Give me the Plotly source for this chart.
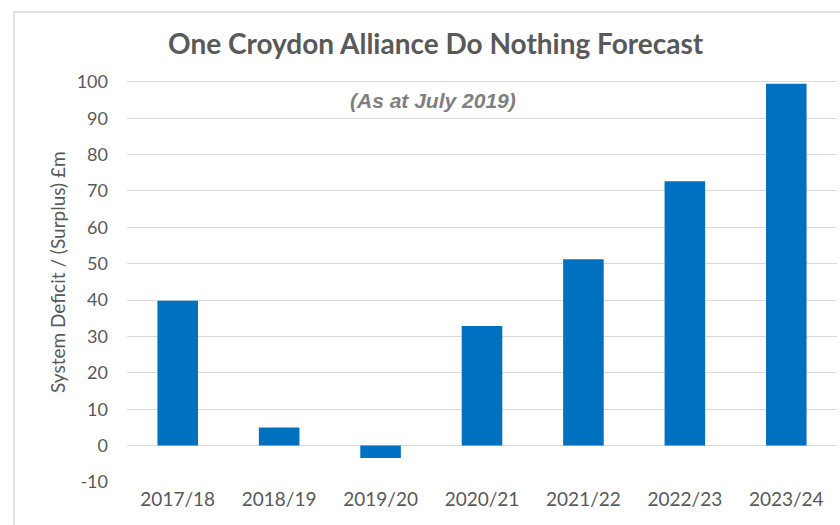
import plotly.graph_objects as go

categories = ["2017/18", "2018/19", "2019/20", "2020/21", "2021/22", "2022/23", "2023/24"]
values = [39.8, 5.0, -3.4, 32.9, 51.2, 72.7, 99.5]
y_ticks = [-10, 0, 10, 20, 30, 40, 50, 60, 70, 80, 90, 100]
y_tick_labels = [str(v) for v in y_ticks]

W, H = 840, 525
ml, mr, mt, mb = 127, 3, 80, 43
pw, ph = W - ml - mr, H - mt - mb

def px_x(p):
    return (p - ml) / pw

def px_y(p):
    return (H - mb - p) / ph

fig = go.Figure(go.Bar(x=categories, y=values, marker_color="#0070C0", marker_line_width=0))

fig.update_layout(
    width=W, height=H,
    margin=dict(l=ml, r=mr, t=mt, b=mb),
    paper_bgcolor="white", plot_bgcolor="white",
    bargap=0.6,
    showlegend=False,
    font=dict(family="Lato, Open Sans, sans-serif", color="#595959"),
    xaxis=dict(showgrid=False, showline=False, ticks="", tickfont=dict(size=19, color="#595959"),
               zeroline=False, ticklabelstandoff=4),
    yaxis=dict(range=[-10, 100.5], tickvals=y_ticks, ticktext=y_tick_labels, showgrid=True,
               gridcolor="#d9d9d9", gridwidth=1.3,
               zeroline=False, showline=False, ticks="", tickfont=dict(size=18, color="#595959"),
               ticklabelstandoff=18),
    shapes=[dict(type="rect", xref="paper", yref="paper", x0=px_x(14), x1=px_x(860), y0=px_y(540), y1=px_y(12),
                 line=dict(color="#d9d9d9", width=1.5), fillcolor="rgba(0,0,0,0)", layer="below")],
    annotations=[
        dict(text="<b>One Croydon Alliance Do Nothing Forecast</b>", xref="paper", yref="paper",
             x=px_x(436), y=px_y(43), xanchor="center", yanchor="middle", showarrow=False,
             font=dict(size=28, color="#595959", family="Lato, Open Sans, sans-serif")),
        dict(text="<b><i>(As at July 2019)</i></b>", xref="paper", yref="paper",
             x=px_x(433), y=px_y(100), xanchor="center", yanchor="middle", showarrow=False,
             font=dict(size=21, color="#7f7f7f", family="Liberation Sans Narrow, Arial Narrow, sans-serif")),
        dict(text="System Deficit / (Surplus) £m", xref="paper", yref="paper",
             x=px_x(57), y=px_y(272), xanchor="center", yanchor="middle", textangle=-90, showarrow=False,
             font=dict(size=19, color="#595959", family="Lato, Open Sans, sans-serif")),
    ],
)

fig.write_html("out.html")
